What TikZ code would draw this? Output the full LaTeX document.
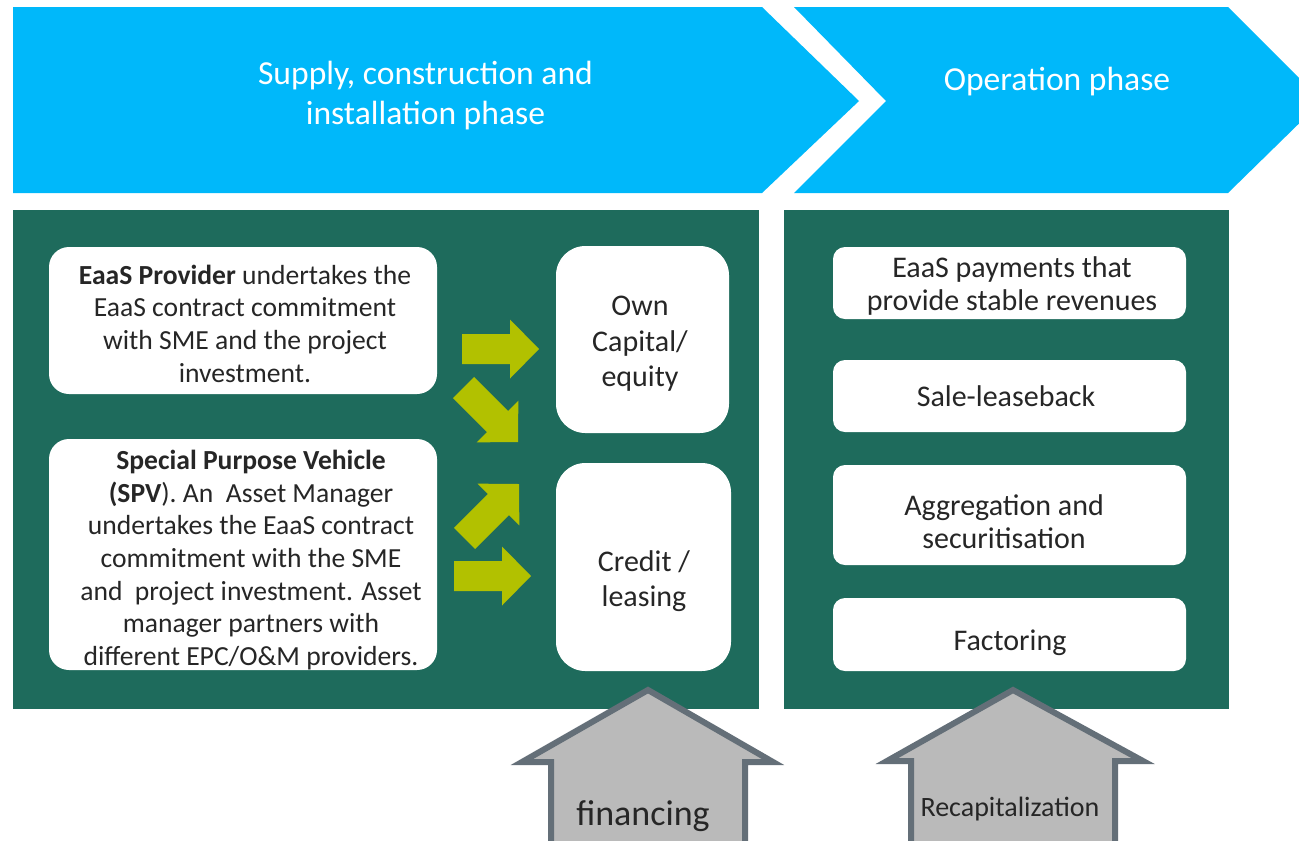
\documentclass[tikz,border=0pt]{standalone}
\usepackage{fontspec}
\setmainfont{Carlito}
\definecolor{hdrblue}{HTML}{00B8FA}
\definecolor{panelgreen}{HTML}{1E6B5C}
\definecolor{lime}{HTML}{B2C100}
\definecolor{txtgray}{HTML}{262626}
\definecolor{arrowfill}{HTML}{BABABA}
\definecolor{arrowline}{HTML}{646F78}
\begin{document}
\begin{tikzpicture}[x=0.75pt,y=-0.75pt,
  hdrtext/.style={text=white,align=center,font=\fontsize{25.2}{30}\selectfont},
  boxtext/.style={text=txtgray,align=center,font=\fontsize{20.7}{24.5}\selectfont},
  midtext/.style={text=txtgray,align=center,font=\fontsize{22.5}{26.5}\selectfont},
  righttext/.style={text=txtgray,align=center,font=\fontsize{22.5}{24.75}\selectfont},
  whitebox/.style={fill=white,draw=none,inner sep=0pt},
  limearrow/.style={fill=lime,draw=none},
  uparrow/.style={fill=arrowfill,draw=arrowline,line width=4.5pt,line join=miter},
]
\clip (0,0) rectangle (1299,840);
\fill[white] (0,0) rectangle (1299,840);

% header chevrons
\fill[hdrblue] (13,7) -- (762,7) -- (859,101) -- (762,193) -- (13,193) -- cycle;
\fill[hdrblue] (794,7) -- (1228,7) -- (1322,101) -- (1228,193) -- (794,193) -- (886,101) -- cycle;
\node[hdrtext] (h1) at (425.5,95.5) {Supply, construction and\\installation phase};
\node[hdrtext] (h2) at (1057,82) {Operation phase};

% panels
\fill[panelgreen] (13,210) rectangle (759,709);
\fill[panelgreen] (784,210) rectangle (1229,709);

% left boxes
\node[whitebox,rounded corners=15pt,minimum width=291pt,minimum height=110.25pt] (b1) at (243,320.5) {};
\node[boxtext] (t1) at (245,323.5) {\textbf{EaaS Provider} undertakes the\\EaaS contract commitment\\with SME and the project\\investment.};
\node[whitebox,rounded corners=15pt,minimum width=291pt,minimum height=173.25pt] (b2) at (243,554.5) {};
\node[boxtext] (t2) at (251,560) {\textbf{Special Purpose Vehicle}\\\textbf{(SPV}). An\ \ Asset Manager\\undertakes the EaaS contract\\commitment with the SME\\and\ \ project investment. Asset\\manager partners with\\different EPC/O\&M providers.};

% middle boxes
\node[whitebox,rounded corners=22pt,minimum width=129.75pt,minimum height=140.25pt] (own) at (642.5,339.5) {};
\node[midtext] (owntxt) at (640,344) {Own\\Capital/\\equity};
\node[whitebox,rounded corners=22pt,minimum width=131.25pt,minimum height=156pt] (cred) at (643.5,567) {};
\node[midtext] (credtxt) at (644,581) {Credit /\\leasing};

% right boxes
\node[whitebox,rounded corners=9pt,minimum width=264.75pt,minimum height=54pt] (r1) at (1009.5,283) {};
\node[righttext] (r1t) at (1012,286) {EaaS payments that\\provide stable revenues};
\node[whitebox,rounded corners=9pt,minimum width=264.75pt,minimum height=54pt] (r2) at (1009.5,396) {};
\node[righttext] (r2t) at (1006,396) {Sale-leaseback};
\node[whitebox,rounded corners=9pt,minimum width=264.75pt,minimum height=75pt] (r3) at (1009.5,515) {};
\node[righttext] (r3t) at (1004,522) {Aggregation and\\securitisation};
\node[whitebox,rounded corners=9pt,minimum width=264.75pt,minimum height=54.75pt] (r4) at (1009.5,634.5) {};
\node[righttext] (r4t) at (1010,643) {Factoring};

% lime arrows
\foreach \tx/\ty/\ang in {539/349/0, 518/442/-45, 519/484/45, 531/576/0}{
  \begin{scope}[shift={(\tx,\ty)},rotate=\ang]
    \fill[limearrow] (0,0) -- (-29,-29.5) -- (-29,-15) -- (-77,-15) -- (-77,15) -- (-29,15) -- (-29,29.5) -- cycle;
  \end{scope}
}

% bottom block arrows
\draw[uparrow] (648,690) -- (522,762) -- (551,762) -- (551,860) -- (745,860) -- (745,762) -- (773,762) -- cycle;
\node[text=txtgray,font=\fontsize{27}{32}\selectfont] (fin) at (643,816) {financing};
\draw[uparrow] (1013,690) -- (887,761) -- (911,761) -- (911,860) -- (1115,860) -- (1115,761) -- (1143,761) -- cycle;
\node[text=txtgray,font=\fontsize{21}{25}\selectfont] (rec) at (1010,809) {Recapitalization};
\end{tikzpicture}
\end{document}
